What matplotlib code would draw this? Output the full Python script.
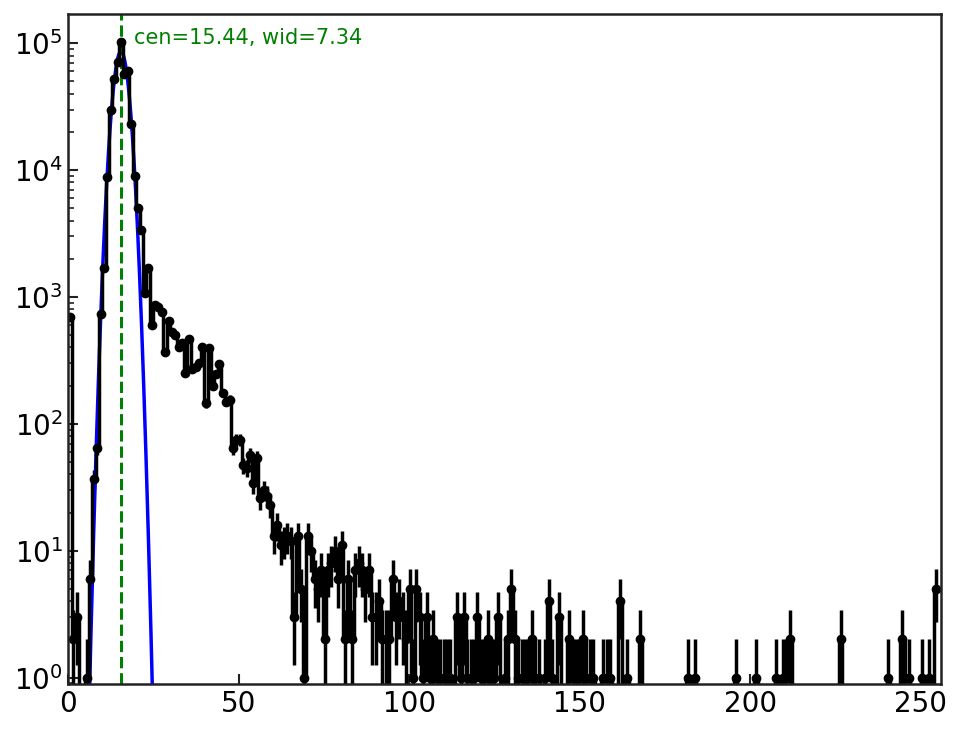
import numpy as np
import matplotlib
matplotlib.use("Agg")
import matplotlib.pyplot as plt

# histogram counts, one value per bin (256 bins over 0..255)
counts = [
    690, 2, 3, 0, 0, 1, 6, 37, 65, 730, 1700, 8800, 29500, 52000, 71000, 102000,
    57000, 60000, 23000, 9000, 5000, 3400, 1080, 1700, 600, 870, 830, 760, 370, 650, 530, 500,
    400, 430, 250, 470, 270, 280, 300, 400, 145, 395, 200, 245, 295, 175, 150, 155,
    65, 75, 75, 47, 45, 57, 34, 54, 26, 30, 27, 23, 13, 16, 11, 12,
    13, 12, 3, 13, 5, 1, 13, 10, 6, 5, 7, 2, 7, 8, 10, 6,
    11, 2, 6, 2, 7, 8, 7, 5, 7, 3, 3, 4, 2, 2, 2, 6,
    3, 4, 3, 2, 5, 1, 5, 3, 1, 3, 1, 2, 1, 1, 1, 1,
    1, 0, 3, 1, 3, 1, 1, 1, 3, 1, 1, 2, 1, 1, 3, 0,
    1, 2, 5, 2, 1, 1, 1, 1, 2, 1, 1, 0, 1, 4, 1, 0,
    3, 0, 0, 2, 1, 1, 1, 2, 1, 1, 1, 0, 0, 1, 1, 1,
    0, 0, 4, 0, 1, 0, 0, 0, 2, 0, 0, 0, 0, 0, 0, 0,
    0, 0, 0, 0, 0, 0, 1, 0, 1, 0, 0, 0, 0, 0, 0, 0,
    0, 0, 0, 0, 1, 0, 0, 0, 0, 0, 1, 0, 0, 0, 0, 0,
    1, 0, 1, 1, 2, 0, 0, 0, 0, 0, 0, 0, 0, 0, 0, 0,
    0, 0, 0, 2, 0, 0, 0, 0, 0, 0, 0, 0, 0, 0, 0, 0,
    0, 1, 0, 0, 0, 2, 1, 1, 0, 0, 0, 1, 0, 1, 0, 5,
]
bin_edges = np.linspace(0, 255, 257)

# gaussian fit parameters
fit_amp = 8.6e4
fit_cen = 15.44
fit_wid = 7.34

counts = np.array(counts, dtype=float)
centers = 0.5 * (bin_edges[:-1] + bin_edges[1:])

fig = plt.figure(figsize=(9.64, 7.29), dpi=100)
ax = fig.add_axes([0.0709, 0.0617, 0.9052, 0.9191])

ax.errorbar(centers, counts, yerr=np.sqrt(counts), fmt='o-', color='k',
            drawstyle='steps-mid', lw=2.5, elinewidth=2.5, ms=6, capsize=0)

xf = np.linspace(0, 256, 3000)
ax.plot(xf, fit_amp * np.exp(-(xf - fit_cen) ** 2 / fit_wid), color='b', lw=2.5)
ax.axvline(fit_cen, color='g', ls='--', lw=2.2)
ax.text(19.2, 1.1e5, 'cen=%.2f, wid=%.2f' % (fit_cen, fit_wid),
        color='g', fontsize=15, va='center')

ax.set_yscale('log')
ax.set_xlim(0, 256)
ax.set_ylim(0.89, 1.7e5)

ax.tick_params(which='both', direction='in', top=False, right=False,
               labelsize=20, pad=4, color='#222222')
ax.tick_params(which='major', length=7, width=1.5)
ax.tick_params(which='minor', length=4, width=1.2)
for sp in ax.spines.values():
    sp.set_linewidth(1.8)
    sp.set_color('#222222')

fig.savefig('out.png', dpi=100)
